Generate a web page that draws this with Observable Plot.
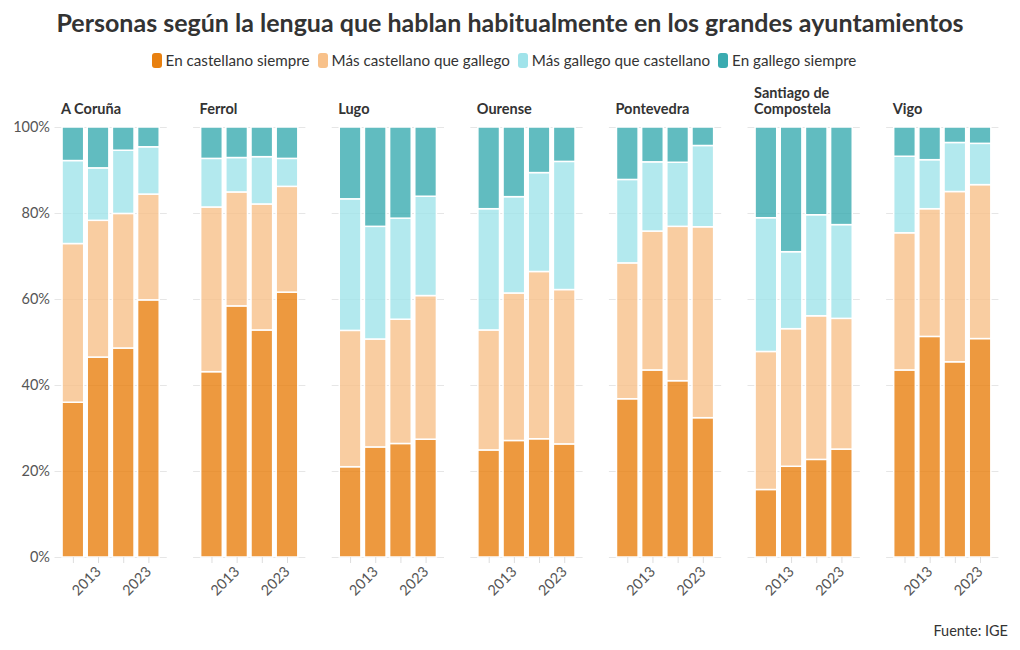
<!DOCTYPE html>
<html><head><meta charset="utf-8">
<script src="https://cdn.jsdelivr.net/npm/d3@7"></script>
<script src="https://cdn.jsdelivr.net/npm/@observablehq/plot@0.6"></script>
<style>
body{margin:0;background:#fff;font-family:Lato,"Noto Sans",sans-serif;width:1020px;height:650px;position:relative;overflow:hidden;color:#333}
#title{position:absolute;top:7px;left:0;width:1020px;text-align:center;font-size:25px;font-weight:700;color:#333}
#legend{position:absolute;top:51px;left:-6px;width:1020px;display:flex;justify-content:center;font-size:15.2px;color:#333}
#legend .item{display:flex;align-items:center;margin:0 4px}
#legend .sw{width:10px;height:15px;border-radius:3px;margin-right:4px}
#chart{position:absolute;top:80px;left:0}
#source{position:absolute;right:12px;top:622px;font-size:14.5px;color:#333}
</style></head>
<body>
<div id="title">Personas según la lengua que hablan habitualmente en los grandes ayuntamientos</div>
<div id="legend"></div>
<div id="chart"></div>
<div id="source">Fuente: IGE</div>
<script>
const cities = ["A Coruña","Ferrol","Lugo","Ourense","Pontevedra","Santiago de Compostela","Vigo"];
const cityLabels = ["A Coruña","Ferrol","Lugo","Ourense","Pontevedra","Santiago de\nCompostela","Vigo"];
const years = [2008, 2013, 2018, 2023];
const xTickLabels = [2013, 2023];
const yTicks = [0, 20, 40, 60, 80, 100];
const categories = ["En castellano siempre","Más castellano que gallego","Más gallego que castellano","En gallego siempre"];
const colors = ["#e8800f","#f8c18a","#a0e3ea","#3aabb0"];
// values per city (in cities order), 4 years each
const castellanoSiempre = [
  36.0, 46.5, 48.6, 59.8,
  43.1, 58.4, 52.8, 61.6,
  21.0, 25.6, 26.4, 27.4,
  24.9, 27.1, 27.5, 26.3,
  36.8, 43.5, 41.0, 32.4,
  15.7, 21.1, 22.7, 25.1,
  43.5, 51.3, 45.4, 50.8
];
const masCastellano = [
  36.9, 31.8, 31.3, 24.6,
  38.3, 26.5, 29.3, 24.6,
  31.7, 25.1, 28.9, 33.4,
  27.9, 34.3, 38.9, 35.9,
  31.6, 32.3, 35.9, 44.4,
  32.1, 32.0, 33.4, 30.4,
  31.9, 29.7, 39.6, 35.8
];
const masGallego = [
  19.3, 12.2, 14.7, 11.0,
  11.3, 8.0, 11.0, 6.5,
  30.6, 26.2, 23.5, 23.1,
  28.2, 22.4, 23.0, 29.8,
  19.4, 16.1, 14.9, 18.9,
  31.1, 17.9, 23.5, 21.8,
  17.8, 11.4, 11.4, 9.6
];
const gallegoSiempre = [
  7.8, 9.5, 5.4, 4.6,
  7.3, 7.1, 6.9, 7.3,
  16.7, 23.1, 21.2, 16.1,
  19.0, 16.2, 10.6, 8.0,
  12.2, 8.1, 8.2, 4.3,
  21.1, 29.0, 20.4, 22.7,
  6.8, 7.6, 3.6, 3.8
];

const series = [castellanoSiempre, masCastellano, masGallego, gallegoSiempre];
const rows = [];
cities.forEach((city, ci) => {
  years.forEach((year, yi) => {
    series.forEach((arr, si) => {
      rows.push({city, year, category: categories[si], value: arr[ci * years.length + yi]});
    });
  });
});

// legend
const legend = document.getElementById("legend");
categories.forEach((c, i) => {
  const it = document.createElement("div");
  it.className = "item";
  it.innerHTML = `<span class="sw" style="background:${colors[i]}"></span><span>${c}</span>`;
  legend.appendChild(it);
});

const chart = Plot.plot({
  width: 1020,
  height: 540,
  marginLeft: 54.5,
  marginRight: 21.6,
  marginTop: 47,
  marginBottom: 63,
  style: {fontFamily: "Lato, 'Noto Sans', sans-serif", background: "white"},
  fx: {domain: cities, paddingInner: 0.19, paddingOuter: 0, round: false, axis: null},
  x: {domain: years, paddingInner: 0.14, paddingOuter: 0.3, round: false, axis: null},
  y: {domain: [0, 100], axis: null},
  color: {domain: categories, range: colors},
  marks: [
    Plot.gridY(yTicks, {stroke: "#e6e6e6", strokeOpacity: 1}),
    Plot.axisY(yTicks, {facetAnchor: "left", tickSize: 0, tickPadding: 5, tickFormat: d => d + "%", fontSize: 14.5, fill: "#555", label: null}),
    Plot.barY(rows, Plot.stackY({order: categories}, {
      fx: "city", x: "year", y: "value", fill: "category",
      fillOpacity: 0.8, stroke: "white", strokeWidth: 1.5
    })),
    Plot.axisX({tickSize: 6, stroke: "#dddddd", fill: "#555", tickRotate: -45, fontSize: 14.5,
      tickFormat: d => xTickLabels.includes(d) ? String(d) : "", label: null}),
    Plot.text(cities, {fx: d => d, text: (d, i) => cityLabels[i], frameAnchor: "top-left",
      lineAnchor: "bottom", dx: 6, dy: -14, fontWeight: 700, fontSize: 14.5, fill: "#333", lineHeight: 1.05})
  ]
});
document.getElementById("chart").appendChild(chart);
</script>
</body></html>
